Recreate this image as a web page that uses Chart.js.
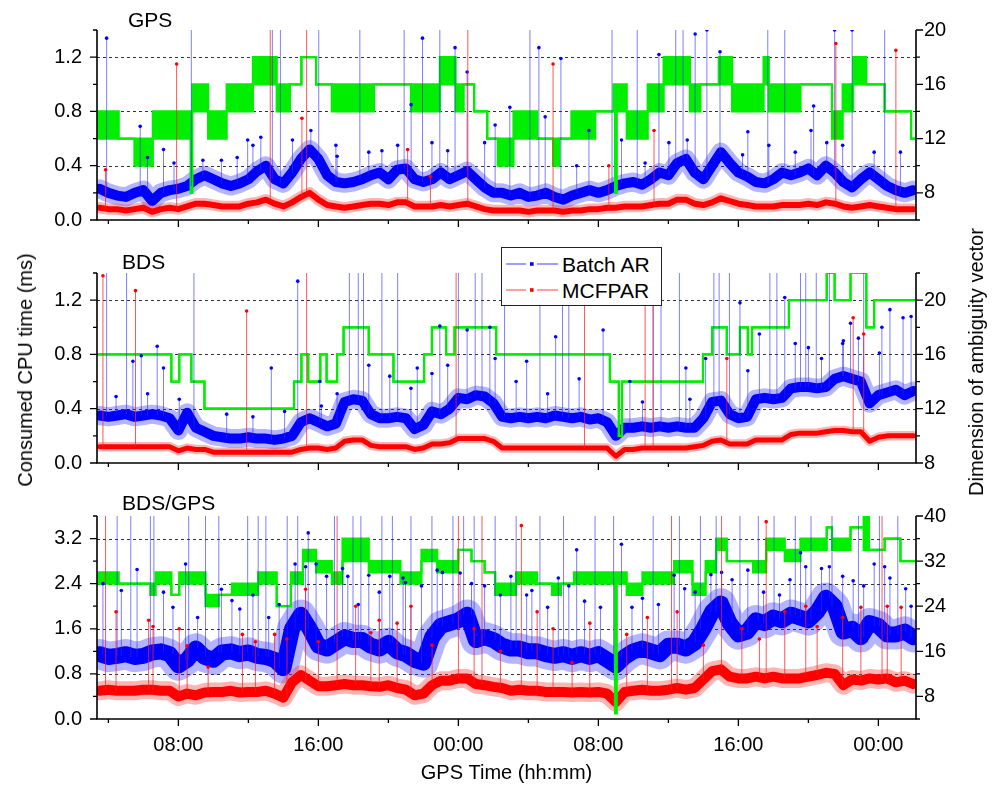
<!DOCTYPE html>
<html>
<head>
<meta charset="utf-8">
<title>Consumed CPU time</title>
<script src="https://cdn.jsdelivr.net/npm/chart.js@4.4.1/dist/chart.umd.min.js"></script>
<style>
  body { margin: 0; background: #fff; font-family: "Liberation Sans", Arial, sans-serif; }
  #page { position: relative; width: 1001px; height: 791px; overflow: hidden; background: #fff; }
  canvas { position: absolute; left: 0; }
  .tag { position: absolute; font-size: 21px; line-height: 21px; color: #000; white-space: nowrap; }
  .vtitle { position: absolute; font-size: 20px; line-height: 20px; white-space: nowrap; color: #000;
            transform: translate(-50%, -50%) rotate(-90deg); }
  #legend { position: absolute; left: 501px; top: 247px; width: 159px; height: 57px;
            border: 1.5px solid #222; background: #fff; }
  #legend svg { position: absolute; left: 4px; }
  #legend span { position: absolute; left: 60px; font-size: 21px; line-height: 21px; white-space: nowrap; }
</style>
</head>
<body>
<div id="page">
  <canvas id="gpsChart" width="1001" height="244" style="top:3px"></canvas>
  <canvas id="bdsChart" width="1001" height="244" style="top:246px"></canvas>
  <canvas id="bgChart" width="1001" height="302" style="top:489px"></canvas>

  <div class="tag" style="left:128px; top:9px">GPS</div>
  <div class="tag" style="left:122px; top:251px">BDS</div>
  <div class="tag" style="left:122px; top:492px">BDS/GPS</div>

  <div class="vtitle" style="left:25px; top:370px">Consumed CPU time (ms)</div>
  <div class="vtitle" style="left:976px; top:362px">Dimension of ambiguity vector</div>

  <div id="legend">
    <svg width="52" height="6" style="top:13px">
      <line x1="0" y1="3" x2="20" y2="3" stroke="#6060ff" stroke-width="1.2"/>
      <rect x="24" y="1.2" width="3.6" height="3.6" fill="#0000ff"/>
      <line x1="31" y1="3" x2="52" y2="3" stroke="#6060ff" stroke-width="1.2"/>
    </svg>
    <span style="top:6px">Batch AR</span>
    <svg width="52" height="6" style="top:39px">
      <line x1="0" y1="3" x2="20" y2="3" stroke="#ff6060" stroke-width="1.2"/>
      <rect x="24" y="1.2" width="3.6" height="3.6" fill="#ff0000"/>
      <line x1="31" y1="3" x2="52" y2="3" stroke="#ff6060" stroke-width="1.2"/>
    </svg>
    <span style="top:32px">MCFPAR</span>
  </div>
</div>

<script>
// GPS time in hours from the start of the first day
const hours = [3.5,4,4.5,5,5.5,6,6.5,7,7.5,8,8.5,9,9.5,10,10.5,11,11.5,12,12.5,13,13.5,14,14.5,15,15.5,16,16.5,17,17.5,18,
  18.5,19,19.5,20,20.5,21,21.5,22,22.5,23,23.5,24,24.5,25,25.5,26,26.5,27,27.5,28,28.5,29,29.5,30,30.5,31,31.5,32,32.5,33,
  33.5,34,34.5,35,35.5,36,36.5,37,37.5,38,38.5,39,39.5,40,40.5,41,41.5,42,42.5,43,43.5,44,44.5,45,45.5,46,46.5,47,47.5,48,
  48.5,49,49.5,50];

// ---- GPS ----
const gpsBatch = [0.23,0.2,0.18,0.17,0.2,0.22,0.14,0.2,0.22,0.23,
  0.25,0.3,0.33,0.3,0.27,0.25,0.27,0.3,0.36,0.4,
  0.3,0.27,0.35,0.45,0.52,0.45,0.33,0.28,0.27,0.28,
  0.3,0.33,0.35,0.3,0.37,0.38,0.3,0.28,0.3,0.35,
  0.3,0.33,0.36,0.3,0.24,0.2,0.2,0.18,0.2,0.17,
  0.18,0.2,0.17,0.15,0.18,0.2,0.22,0.2,0.22,0.25,
  0.27,0.28,0.26,0.3,0.35,0.33,0.42,0.45,0.35,0.3,
  0.4,0.5,0.42,0.35,0.32,0.28,0.27,0.3,0.35,0.33,
  0.35,0.38,0.33,0.4,0.35,0.28,0.24,0.3,0.35,0.3,
  0.25,0.22,0.2,0.22];
const gpsMcfpar = [0.09,0.08,0.08,0.07,0.08,0.09,0.06,0.08,0.09,0.08,
  0.1,0.12,0.12,0.11,0.1,0.1,0.1,0.12,0.13,0.15,
  0.12,0.1,0.13,0.17,0.2,0.15,0.11,0.1,0.09,0.1,
  0.11,0.12,0.12,0.11,0.13,0.13,0.1,0.1,0.1,0.11,
  0.1,0.11,0.12,0.1,0.08,0.07,0.07,0.07,0.07,0.06,
  0.07,0.07,0.07,0.06,0.07,0.07,0.08,0.08,0.09,0.09,
  0.1,0.1,0.1,0.11,0.12,0.12,0.15,0.15,0.12,0.11,
  0.13,0.16,0.14,0.12,0.11,0.1,0.1,0.1,0.11,0.11,
  0.11,0.12,0.11,0.13,0.12,0.1,0.09,0.1,0.11,0.1,
  0.09,0.08,0.08,0.08];
const gpsBatchSpikeT = [3.9,5.82,7.75,8.74,11.96,12.26,13.37,13.83,16.02,18.37,18.88,20.9,21.3,21.95,22.94,23.81,24.5,26.1,
  26.94,28.09,28.6,29.86,31.46,32.78,34.22,35.46,36.42,36.84,37.53,38.2,38.95,40.54,41.68,42.65,44.3,45.5,46.5,48.36,
  10.46,44.15,47.76,17.0,
  6.24,7.15,9.4,11.36,12.71,14.52,15.57,17.07,19.63,20.53,22.49,23.39,25.5,28.96,30.76,33.32,34.67,36.03,37.08,40.24,
  41.74,43.25,45.05,45.96,49.26];
const gpsBatchSpikeV = [1.34,0.69,0.42,1.45,0.59,0.55,1.45,1.45,1.45,1.45,0.5,1.45,0.85,1.34,1.45,1.27,1.09,0.7,
  0.83,1.45,1.27,1.19,0.66,1.45,1.45,1.22,1.45,1.45,1.37,1.4,1.24,0.65,1.45,1.45,0.84,1.4,1.4,1.45,
  0.44,0.66,0.5,0.55,
  0.46,0.52,0.44,0.46,0.61,0.59,0.66,0.47,0.51,0.55,0.57,0.51,0.57,0.76,0.4,0.59,0.42,0.57,0.59,0.48,
  0.55,0.5,0.57,0.55,0.5];
const gpsMcfparSpikeT = [3.84,7.9,13.25,15.06,15.33,24.54,29.41,35.18,45.57,49.0,21.1,22.4,32.6];
const gpsMcfparSpikeV = [0.37,1.15,1.45,0.75,1.45,1.45,1.15,0.66,1.3,1.25,0.52,0.32,0.4];
const gpsDimT = [3.35,4.59,5.49,6.54,8.7,8.8,9.7,10.76,12.26,13.62,14.37,15.03,15.87,16.77,19.18,21.29,22.94,23.84,24.3,24.9,
  25.65,26.25,27.15,28.5,29.41,29.77,30.46,31.82,32.87,32.95,33.05,33.62,34.82,35.73,37.23,37.83,38.88,39.64,41.44,41.74,
  43.55,45.35,45.96,46.56,47.31,48.36,49.87];
const gpsDimLo = [12,12,10,12,8,14,12,14,16,14,16,18,16,14,16,14,16,14,16,14,
  12,10,12,12,10,12,12,14,14,8,14,12,14,16,14,16,16,14,16,14,
  16,12,14,16,16,14,12];
const gpsDimHi = [14,12,12,14,14,16,14,16,18,16,16,18,16,16,16,16,18,16,16,14,
  12,12,14,12,12,12,14,14,16,16,16,14,16,18,16,16,18,16,18,16,
  16,14,16,18,16,14,12];

// ---- BDS ----
const bdsBatch = [0.35,0.34,0.35,0.36,0.34,0.35,0.36,0.35,0.33,0.24,
  0.37,0.26,0.23,0.2,0.19,0.18,0.18,0.19,0.18,0.18,
  0.17,0.18,0.2,0.3,0.33,0.3,0.27,0.29,0.45,0.47,
  0.46,0.36,0.33,0.33,0.34,0.33,0.25,0.28,0.38,0.36,
  0.4,0.48,0.47,0.5,0.49,0.44,0.34,0.33,0.34,0.33,
  0.34,0.33,0.35,0.34,0.33,0.34,0.32,0.33,0.3,0.2,
  0.26,0.26,0.27,0.26,0.27,0.26,0.27,0.26,0.26,0.33,
  0.45,0.46,0.36,0.33,0.34,0.47,0.48,0.47,0.48,0.55,
  0.56,0.56,0.55,0.56,0.62,0.64,0.62,0.6,0.44,0.5,
  0.52,0.54,0.5,0.53];
const bdsMcfpar = [0.12,0.12,0.12,0.12,0.12,0.12,0.12,0.12,0.12,0.09,
  0.11,0.1,0.1,0.08,0.08,0.08,0.08,0.08,0.08,0.08,
  0.08,0.08,0.08,0.1,0.11,0.11,0.1,0.11,0.16,0.17,
  0.17,0.13,0.12,0.12,0.12,0.12,0.1,0.11,0.14,0.14,
  0.15,0.18,0.18,0.18,0.18,0.16,0.11,0.11,0.11,0.11,
  0.11,0.11,0.11,0.11,0.11,0.11,0.11,0.11,0.11,0.05,
  0.1,0.1,0.11,0.11,0.11,0.11,0.11,0.11,0.12,0.13,
  0.16,0.17,0.14,0.14,0.14,0.17,0.17,0.17,0.17,0.21,
  0.22,0.22,0.22,0.23,0.24,0.24,0.23,0.23,0.16,0.19,
  0.2,0.2,0.2,0.2];
const bdsBatchSpikeT = [3.9,5.04,5.4,5.88,6.79,7.15,8.89,13.31,14.82,16.08,17.77,18.28,18.58,19.63,20.53,21.65,22.94,24.0,
  24.5,24.96,25.35,25.8,26.64,27.9,28.66,29.56,29.95,30.31,32.27,35.13,35.58,36.63,38.6,38.9,39.49,40.09,41.8,42.2,42.65,
  43.55,43.85,44.45,45.2,46.41,47.16,48.66,49.41,49.87,41.2,44.0,46.0,48.2,37.0,30.9,33.8,
  4.44,6.24,8.05,10.76,12.26,14.07,16.17,17.07,18.88,20.08,21.29,22.49,23.39,26.1,27.3,29.1,34.52,37.23,38.13,40.54,
  43.25,44.75,45.96,46.86,48.06];
const bdsBatchSpikeV = [1.45,1.43,0.75,0.79,0.86,0.7,1.45,0.7,1.34,0.6,1.45,1.45,1.45,1.45,1.45,0.7,1.01,1.45,
  0.98,1.45,1.45,1.0,1.45,0.75,1.45,0.93,1.45,1.45,0.98,1.45,1.45,1.45,1.45,1.45,1.45,1.18,1.45,1.45,1.22,
  1.45,1.45,1.45,1.45,1.03,1.45,1.13,1.07,1.08,0.95,0.85,0.9,1.0,0.7,0.62,0.6,
  0.49,0.51,0.47,0.36,0.34,0.38,0.42,0.51,0.72,0.64,0.55,0.66,0.72,0.77,0.6,0.51,0.45,0.47,0.77,0.68,
  0.88,0.77,0.88,0.92,0.81];
const bdsMcfparSpikeT = [3.69,5.55,11.9,15.33,23.87,31.21,34.67,35.13,39.34,46.56,47.16];
const bdsMcfparSpikeV = [1.38,1.27,1.12,1.45,1.45,1.45,1.45,1.45,0.77,1.07,0.95];
const bdsDimT = [3.35,7.6,8.05,8.74,9.49,14.61,15.03,15.42,16.11,16.47,17.07,17.44,18.88,20.29,22.04,22.49,23.3,23.78,
  26.16,32.66,33.17,33.35,37.98,38.5,39.34,40.09,40.54,40.78,42.89,45.05,45.5,46.41,47.31,47.76];
const bdsDim = [16,14,16,14,12,14,16,14,16,14,16,18,16,14,16,18,16,18,
  16,14,10,14,16,18,16,18,16,18,20,22,20,22,18,20];

// ---- BDS/GPS ----
const bgBatch = [1.15,1.1,1.12,1.15,1.1,1.12,1.18,1.2,1.15,0.95,
  1.05,1.25,1.1,1.05,1.18,1.2,1.15,1.18,1.12,1.1,
  1.05,0.9,1.6,1.85,1.6,1.3,1.25,1.35,1.45,1.4,
  1.4,1.3,1.25,1.35,1.2,1.15,1.05,1.0,1.45,1.65,
  1.7,1.75,1.85,1.4,1.45,1.4,1.3,1.25,1.25,1.2,
  1.2,1.15,1.12,1.15,1.1,1.15,1.1,1.15,1.05,0.95,
  1.1,1.2,1.25,1.2,1.15,1.3,1.3,1.25,1.35,1.6,
  1.9,2.05,1.7,1.5,1.55,1.75,1.7,1.8,1.75,1.85,
  1.8,1.75,1.9,2.15,2.0,1.55,1.6,1.45,1.7,1.65,
  1.5,1.5,1.55,1.45];
const bgMcfpar = [0.5,0.52,0.5,0.5,0.5,0.52,0.52,0.5,0.5,0.4,
  0.45,0.42,0.47,0.48,0.48,0.5,0.47,0.48,0.48,0.5,
  0.45,0.38,0.65,0.78,0.68,0.58,0.58,0.6,0.62,0.6,
  0.6,0.58,0.57,0.6,0.55,0.52,0.42,0.45,0.6,0.68,
  0.68,0.72,0.72,0.62,0.6,0.57,0.55,0.5,0.52,0.5,
  0.5,0.48,0.48,0.48,0.47,0.48,0.47,0.48,0.45,0.3,
  0.48,0.5,0.52,0.5,0.5,0.52,0.55,0.52,0.55,0.7,
  0.85,0.88,0.75,0.72,0.72,0.75,0.72,0.75,0.72,0.72,
  0.72,0.75,0.78,0.82,0.8,0.6,0.7,0.68,0.72,0.7,
  0.72,0.65,0.68,0.62];
const bgBatchSpikeT = [4.5,5.28,6.4,6.6,8.59,9.55,10.31,11.96,12.56,13.0,14.22,14.82,16.92,17.98,18.43,19.63,20.23,21.29,
  22.49,23.69,24.3,24.9,26.1,27.3,28.66,30.01,31.81,32.87,35.13,36.63,37.83,38.73,40.09,41.14,42.04,43.25,44.15,45.35,
  46.86,48.06,49.11,
  3.69,5.64,8.41,10.46,12.26,15.42,18.88,20.84,23.09,24.75,27.9,29.71,30.76,33.32,36.33,39.04,43.55,45.2,46.56,48.66,49.87,
  4.74,7.15,7.69,9.1,11.06,11.51,13.16,13.76,14.67,15.27,15.87,16.47,17.38,17.68,18.28,19.48,20.08,20.98,21.89,22.79,
  24.1,25.5,26.4,27.0,28.2,29.1,30.31,31.21,32.12,33.92,34.52,35.43,36.93,37.53,38.43,39.64,40.54,41.44,42.35,42.95,
  43.85,44.75,45.96,47.16,47.76,48.36,49.56];
const bgBatchSpikeV = [3.7,3.7,3.7,3.7,3.7,3.7,3.7,3.7,3.7,3.7,3.7,3.7,3.7,3.7,3.7,3.7,3.7,3.7,
  3.7,3.7,3.7,3.7,3.7,3.7,3.7,3.7,3.7,3.7,3.7,3.7,3.7,3.7,3.7,3.7,3.7,3.7,3.7,3.7,
  3.7,3.7,3.7,
  2.4,2.65,2.75,2.3,2.2,3.3,2.55,2.5,2.6,2.4,2.2,2.5,3.0,3.1,2.55,2.6,2.95,2.7,2.45,2.5,2.0,
  2.28,2.25,1.98,1.8,2.1,1.95,1.8,2.03,2.75,2.7,2.75,2.53,2.67,2.53,2.03,2.25,2.53,2.42,2.36,2.64,
  2.59,2.36,2.2,2.53,2.28,1.98,2.36,2.09,1.98,1.98,2.14,2.03,2.31,2.25,2.56,2.47,2.64,2.25,2.2,2.47,
  2.7,2.67,2.53,2.36,2.75,2.7,2.31];
const bgMcfparSpikeT = [3.84,4.44,6.3,8.05,8.5,11.66,15.27,17.07,18.13,19.48,21.29,24.0,25.35,27.6,29.41,31.51,33.62,
  36.18,39.04,41.59,42.65,43.85,45.96,48.21,48.51,
  6.55,9.7,12.4,13.5,14.2,16.0,19.0,20.5,22.5,24.9,26.4,28.5,30.5,34.8,36.5,38.0,40.2,41.2,44.5,47.0,49.3];
const bgMcfparSpikeV = [3.7,1.9,1.75,1.6,1.3,1.5,2.3,3.7,2.0,1.75,2.0,3.7,3.7,3.43,1.6,1.7,1.5,
  3.7,3.7,3.5,1.9,2.0,1.8,3.7,2.0,
  1.64,0.92,1.37,1.5,1.42,1.37,1.53,1.7,1.31,1.6,1.2,1.9,1.0,1.8,1.9,1.31,1.6,1.42,1.64,1.98,1.98];
const bgDimT = [3.35,4.59,6.4,6.7,7.6,8.05,9.55,10.31,11.06,12.56,13.62,14.43,15.12,15.87,16.77,17.38,18.88,20.69,21.89,
  22.79,24.0,24.75,25.5,26.1,27.3,28.5,29.35,29.86,30.61,32.95,33.05,33.62,34.52,36.33,37.38,38.13,38.73,39.34,40.84,
  41.59,42.65,43.55,45.05,45.35,46.41,47.16,47.46,48.36,49.26];
const bgDimLo = [28,28,26,28,26,28,24,26,26,28,24,28,32,30,28,32,30,28,32,
  30,34,32,30,26,28,28,26,28,28,5,28,26,28,30,26,30,34,32,30,
  34,32,34,38,34,38,34,34,36,32];
const bgDimHi = [30,28,28,30,26,30,26,26,28,30,24,30,34,32,30,36,32,30,34,
  32,34,32,30,28,30,28,28,28,30,30,30,28,30,32,28,32,36,32,32,
  36,34,36,38,36,38,40,34,36,32];

const X_MIN = 3.35, X_MAX = 50.15;
const BLUE = '#0000ff', RED = '#ff0000', GREEN = '#00ee00';

Chart.defaults.font.family = '"Liberation Sans", Arial, sans-serif';
Chart.defaults.font.size = 20;
Chart.defaults.color = '#000';

function nearestIdx(t) {
  let best = 0;
  hours.forEach((h, i) => { if (Math.abs(h - t) < Math.abs(hours[best] - t)) best = i; });
  return best;
}
const bandPts = vals => hours.map((h, i) => ({ x: h, y: vals[i] }));
const stepPts = (ts, vs) => ts.map((t, i) => ({ x: t, y: vs[i] })).concat([{ x: X_MAX, y: vs[vs.length - 1] }]);
function spikePts(ts, vs, base) {
  const pts = [];
  ts.forEach((t, i) => {
    pts.push({ x: t, y: base[nearestIdx(t)] }, { x: t, y: vs[i] }, { x: t, y: null });
  });
  return pts;
}

// dashed grid, axis lines and major/minor tick marks
const axisFrame = {
  id: 'axisFrame',
  beforeDatasetsDraw(chart) {
    const { ctx, chartArea: a } = chart;
    const y = chart.scales.y;
    ctx.save();
    ctx.strokeStyle = '#333';
    ctx.lineWidth = 1;
    ctx.setLineDash([3, 3]);
    y.ticks.forEach(t => {
      if (t.label === '' || t.value === y.min) return;
      const py = Math.round(y.getPixelForValue(t.value)) + 0.5;
      ctx.beginPath();
      ctx.moveTo(a.left, py);
      ctx.lineTo(a.right, py);
      ctx.stroke();
    });
    ctx.restore();
  },
  afterDraw(chart) {
    const { ctx, chartArea: a, scales } = chart;
    ctx.save();
    ctx.strokeStyle = '#000';
    ctx.lineWidth = 1.6;
    ctx.beginPath();
    ctx.moveTo(a.left, a.top);
    ctx.lineTo(a.left, a.bottom);
    ctx.lineTo(a.right, a.bottom);
    ctx.lineTo(a.right, a.top);
    ctx.stroke();
    const marks = (scale, draw) => scale.ticks.forEach(t => draw(scale.getPixelForValue(t.value), t.label !== '' ? 7 : 4));
    ctx.lineWidth = 1.3;
    ctx.beginPath();
    marks(scales.y, (p, len) => { ctx.moveTo(a.left - len, p); ctx.lineTo(a.left, p); });
    marks(scales.y2, (p, len) => { ctx.moveTo(a.right, p); ctx.lineTo(a.right + len, p); });
    marks(scales.x, (p, len) => { ctx.moveTo(p, a.bottom); ctx.lineTo(p, a.bottom + len); });
    ctx.stroke();
    ctx.restore();
  }
};

function band(vals, color, width) {
  return { data: bandPts(vals), yAxisID: 'y', borderColor: color, borderWidth: width, pointRadius: 0,
           borderJoinStyle: 'round', borderCapStyle: 'round', clip: 0 };
}
function spikes(ts, vs, base, lineColor, dotColor) {
  return { data: spikePts(ts, vs, base), yAxisID: 'y', borderColor: lineColor, borderWidth: 1,
           pointRadius: c => c.index % 3 === 1 ? 1.8 : 0, pointBackgroundColor: dotColor, pointBorderWidth: 0 };
}

function makePanel(id, p) {
  const xTitle = p.showX ? { display: true, text: 'GPS Time (hh:mm)', font: { size: 20 }, padding: { top: 0, bottom: 6 } } : { display: false };
  return new Chart(document.getElementById(id), {
    type: 'line',
    data: {
      datasets: [
        spikes(p.redSpikeT, p.redSpikeV, p.red, 'rgba(255,30,30,0.75)', RED),
        spikes(p.blueSpikeT, p.blueSpikeV, p.blue, 'rgba(40,40,255,0.6)', BLUE),
        { data: stepPts(p.dimT, p.dimHi), yAxisID: 'y2', stepped: 'before', borderColor: GREEN, borderWidth: 2.2, pointRadius: 0 },
        { data: stepPts(p.dimT, p.dimLo), yAxisID: 'y2', stepped: 'before', borderColor: GREEN, borderWidth: 2.2, pointRadius: 0,
          fill: '-1', backgroundColor: GREEN },
        band(p.red, RED, p.redW),
        band(p.red, 'rgba(255,40,40,0.35)', p.redW * 1.9),
        band(p.blue, BLUE, p.blueW),
        band(p.blue, 'rgba(30,30,255,0.33)', p.blueW * 1.9)
      ]
    },
    options: {
      responsive: false,
      animation: false,
      events: [],
      layout: { padding: { top: 14, left: 0, right: 0, bottom: 0 } },
      plugins: { legend: { display: false }, tooltip: { enabled: false } },
      scales: {
        x: {
          type: 'linear', min: X_MIN, max: X_MAX,
          grid: { display: false, drawTicks: false }, border: { display: false },
          ticks: {
            display: p.showX, stepSize: 4, includeBounds: false, autoSkip: false, maxRotation: 0, padding: 14,
            callback: v => v % 8 === 0 ? String(v % 24).padStart(2, '0') + ':00' : ''
          },
          title: xTitle,
          afterFit: s => { s.height = p.showX ? 72 : 14; }
        },
        y: {
          position: 'left', min: 0, max: p.yMax,
          grid: { display: false, drawTicks: false }, border: { display: false },
          ticks: {
            stepSize: p.yStep, autoSkip: false, padding: 15,
            callback: v => Math.round(v * 10) % Math.round(p.yMajor * 10) === 0 ? v.toFixed(1) : ''
          },
          afterFit: s => { s.width = 97; }
        },
        y2: {
          position: 'right', min: p.dMin, max: p.dMax,
          grid: { display: false, drawTicks: false }, border: { display: false },
          ticks: {
            stepSize: p.dStep, autoSkip: false, padding: 8,
            callback: v => v % p.dMajor === 0 ? String(v) : ''
          },
          afterFit: s => { s.width = 85; }
        }
      }
    },
    plugins: [axisFrame]
  });
}

makePanel('gpsChart', {
  blue: gpsBatch, red: gpsMcfpar, blueW: 10, redW: 6,
  blueSpikeT: gpsBatchSpikeT, blueSpikeV: gpsBatchSpikeV, redSpikeT: gpsMcfparSpikeT, redSpikeV: gpsMcfparSpikeV,
  dimT: gpsDimT, dimLo: gpsDimLo, dimHi: gpsDimHi,
  yMax: 1.4, yStep: 0.2, yMajor: 0.4, dMin: 6, dMax: 20, dStep: 2, dMajor: 4, showX: false
});
makePanel('bdsChart', {
  blue: bdsBatch, red: bdsMcfpar, blueW: 10, redW: 5,
  blueSpikeT: bdsBatchSpikeT, blueSpikeV: bdsBatchSpikeV, redSpikeT: bdsMcfparSpikeT, redSpikeV: bdsMcfparSpikeV,
  dimT: bdsDimT, dimLo: bdsDim, dimHi: bdsDim,
  yMax: 1.4, yStep: 0.2, yMajor: 0.4, dMin: 8, dMax: 22, dStep: 2, dMajor: 4, showX: false
});
makePanel('bgChart', {
  blue: bgBatch, red: bgMcfpar, blueW: 16, redW: 10,
  blueSpikeT: bgBatchSpikeT, blueSpikeV: bgBatchSpikeV, redSpikeT: bgMcfparSpikeT, redSpikeV: bgMcfparSpikeV,
  dimT: bgDimT, dimLo: bgDimLo, dimHi: bgDimHi,
  yMax: 3.6, yStep: 0.4, yMajor: 0.8, dMin: 4, dMax: 40, dStep: 4, dMajor: 8, showX: true
});
</script>
</body>
</html>
